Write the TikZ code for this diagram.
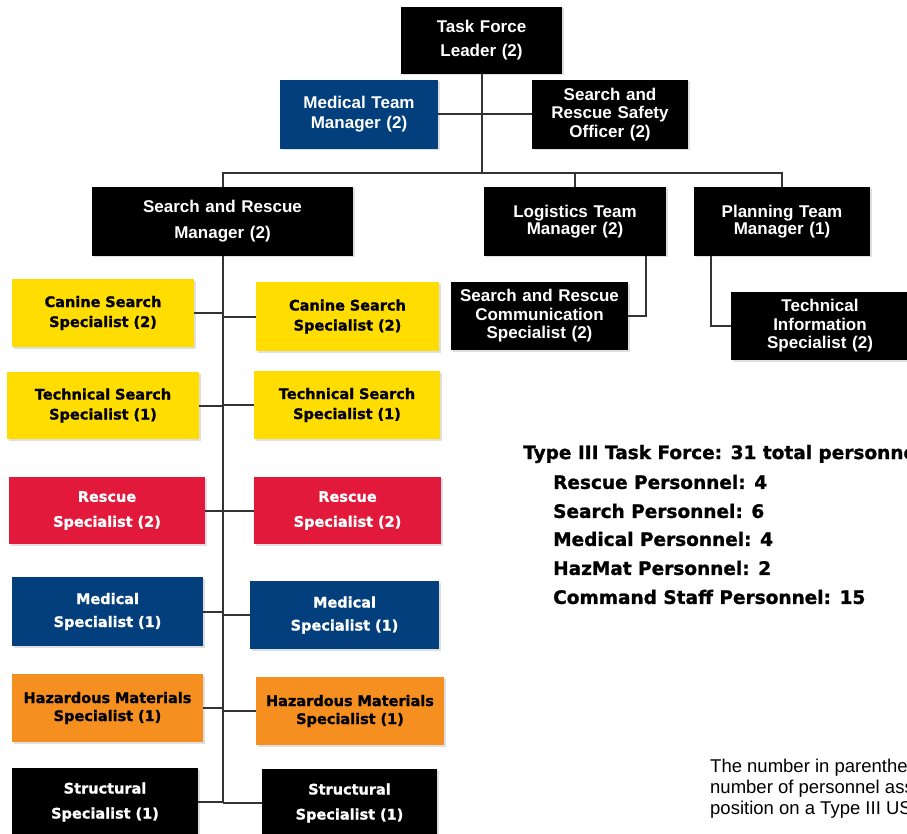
\documentclass[tikz,border=0pt]{standalone}
\usepackage{fontspec}
\setmainfont{Liberation Sans}
\newfontfamily\topf{Liberation Sans}[BoldFont=* Bold]
\newfontfamily\wide{DejaVu Sans}[BoldFeatures={FakeBold=1.2}]
\usetikzlibrary{shadows}
\definecolor{fblue}{HTML}{023F7C}
\definecolor{fyellow}{HTML}{FFDD00}
\definecolor{fred}{HTML}{E2193A}
\definecolor{forange}{HTML}{F58F20}
\definecolor{linec}{HTML}{333333}
\tikzset{
  box/.style={draw=none, inner sep=0pt, align=center, text width=#1,
    drop shadow={opacity=0.25, shadow xshift=1.5pt, shadow yshift=-1.5pt}},
  topbox/.style={box=150pt, fill=black, text=white, font=\topf\bfseries\fontsize{17}{#1}\selectfont},
  spec/.style={box=172pt, font=\wide\bfseries\fontsize{14.5}{#1}\selectfont},
  conn/.style={draw=linec, line width=2pt},
  legend/.style={anchor=west, inner sep=0pt, font=\wide\bfseries\fontsize{18.5}{22}\selectfont},
}
\begin{document}
\begin{tikzpicture}[x=1pt,y=-1pt]
\useasboundingbox (0,0) rectangle (907,834);
\clip (0,0) rectangle (907,834);
\fill[white] (0,0) rectangle (907,834);
% top level
\node[topbox=24, minimum width=161pt, minimum height=67pt] (tfl) at (481.5,40.5) {Task Force\\Leader (2)};
\node[topbox=20, fill=fblue, minimum width=158pt, minimum height=69pt] (mtm) at (359,114.5) {Medical Team\\Manager (2)};
\node[topbox=18.5, minimum width=156pt, minimum height=69pt] (safe) at (610,114.5) {Search and\\Rescue Safety\\Officer (2)};
\node[topbox=26, text width=240pt, minimum width=261pt, minimum height=69pt] (sarm) at (222.5,221.5) {Search and Rescue\\Manager (2)};
\node[topbox=17.5, minimum width=182pt, minimum height=69pt] (logm) at (575,221.5) {Logistics Team\\Manager (2)};
\node[topbox=17.5, minimum width=176pt, minimum height=69pt] (planm) at (782,221.5) {Planning Team\\Manager (1)};
\node[topbox=18.5, text width=170pt, minimum width=177pt, minimum height=68pt] (comm) at (539.5,316) {Search and Rescue\\Communication\\Specialist (2)};
\node[topbox=18.5, minimum width=178pt, minimum height=68pt] (tinfo) at (820,326) {Technical\\Information\\Specialist (2)};
% left column
\node[spec=20, fill=fyellow, minimum width=182pt, minimum height=68pt] (canL) at (103,313) {Canine Search\\Specialist (2)};
\node[spec=20, fill=fyellow, minimum width=183pt, minimum height=69pt] (canR) at (347.5,316.5) {Canine Search\\Specialist (2)};
\node[spec=20, fill=fyellow, minimum width=192pt, minimum height=67pt] (tecL) at (103,405.5) {Technical Search\\Specialist (1)};
\node[spec=20, fill=fyellow, minimum width=186pt, minimum height=68pt] (tecR) at (347,405) {Technical Search\\Specialist (1)};
\node[spec=25, fill=fred, text=white, minimum width=196pt, minimum height=67pt] (resL) at (107,510.5) {Rescue\\Specialist (2)};
\node[spec=25, fill=fred, text=white, minimum width=187pt, minimum height=67pt] (resR) at (347.5,510.5) {Rescue\\Specialist (2)};
\node[spec=23, fill=fblue, text=white, minimum width=191pt, minimum height=69pt] (medL) at (107.5,611.5) {Medical\\Specialist (1)};
\node[spec=23, fill=fblue, text=white, minimum width=189pt, minimum height=68pt] (medR) at (344.5,615) {Medical\\Specialist (1)};
\node[spec=18, fill=forange, minimum width=191pt, minimum height=68pt] (hazL) at (107.5,708) {Hazardous Materials\\Specialist (1)};
\node[spec=18, fill=forange, minimum width=188pt, minimum height=68pt] (hazR) at (350,711) {Hazardous Materials\\Specialist (1)};
\node[spec=25, fill=black, text=white, minimum width=186pt, minimum height=68pt] (strL) at (105,802) {Structural\\Specialist (1)};
\node[spec=25, fill=black, text=white, minimum width=175pt, minimum height=68pt] (strR) at (349.5,803) {Structural\\Specialist (1)};
% connectors
\coordinate (bus) at (0,173);
\coordinate (lc) at (646,0);
\coordinate (pc) at (711,0);
\draw[conn] (tfl.south) -- (tfl.south |- bus);
\draw[conn] (mtm.east) -- (safe.west);
\draw[conn] (sarm.north) -- (sarm.north |- bus) -- (planm.north |- bus) -- (planm.north);
\draw[conn] (logm.north) -- (logm.north |- bus);
\draw[conn] (logm.south -| lc) |- (comm.east);
\draw[conn] (planm.south -| pc) |- (tinfo.west);
\draw[conn] (sarm.south) -- (sarm.south |- strL.east);
\foreach \n in {canL,tecL,resL,medL,hazL,strL}{\draw[conn] (\n.east) -- (\n.east -| sarm.south);}
\foreach \n in {canR,tecR,resR,medR,hazR,strR}{\draw[conn] (\n.west) -- (\n.west -| sarm.south);}
% legend
\node[legend] (lg0) at (523,454) {Type III Task Force: 31 total personnel};
\node[legend] (lg1) at (553,482) {Rescue Personnel: 4};
\node[legend] (lg2) at (553,511) {Search Personnel: 6};
\node[legend] (lg3) at (553,539) {Medical Personnel: 4};
\node[legend] (lg4) at (553,568) {HazMat Personnel: 2};
\node[legend] (lg5) at (553,597) {Command Staff Personnel: 15};
\node[anchor=west, inner sep=0pt, align=left, font=\fontsize{18.5}{21}\selectfont] (note) at (710,789) {The number in parentheses\\number of personnel assigned\\position on a Type III US\&R};
\end{tikzpicture}
\end{document}
